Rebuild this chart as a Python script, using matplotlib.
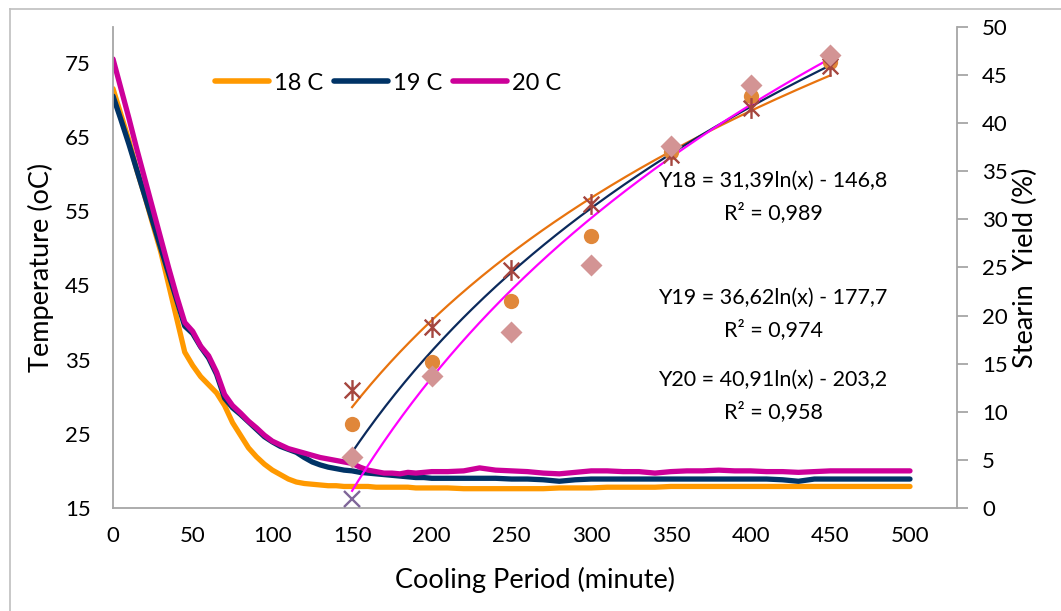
import numpy as np
import matplotlib
matplotlib.use("Agg")
import matplotlib.pyplot as plt
from matplotlib.path import Path
from matplotlib.lines import Line2D

plt.rcParams['font.family'] = ['Lato', 'DejaVu Sans']

# cooling curves
time = list(range(0, 200, 5)) + list(range(200, 501, 10))

temp_18 = [71.5, 68.0, 64.5, 60.5, 57.0, 53.2, 49.5, 45.0, 40.5, 36.0,
           34.2, 32.7, 31.6, 30.5, 28.8, 26.5, 24.8, 23.1, 21.9, 20.9,
           20.1, 19.5, 18.9, 18.5, 18.3, 18.2, 18.1, 18.0, 18.0, 17.9,
           17.9, 17.9, 17.9, 17.8, 17.8, 17.8, 17.8, 17.8, 17.7, 17.7,
           17.7, 17.7, 17.6, 17.6, 17.6, 17.6, 17.6, 17.6, 17.7, 17.7,
           17.7, 17.8, 17.8, 17.8, 17.8, 17.9, 17.9, 17.9, 17.9, 17.9,
           17.9, 17.9, 17.9, 17.9, 17.9, 17.9, 17.9, 17.9, 17.9, 17.9, 17.9]

temp_19 = [70.5, 67.3, 64.0, 60.5, 57.0, 53.5, 50.0, 46.5, 43.0, 39.5,
           38.5, 36.7, 35.2, 33.0, 29.8, 28.5, 27.6, 26.6, 25.6, 24.6,
           23.9, 23.3, 22.9, 22.5, 21.8, 21.2, 20.8, 20.5, 20.3, 20.1,
           20.0, 19.8, 19.7, 19.6, 19.5, 19.4, 19.3, 19.2, 19.1, 19.1,
           19.0, 19.0, 19.0, 19.0, 19.0, 18.9, 18.9, 18.8, 18.6, 18.8,
           18.9, 18.9, 18.9, 18.9, 18.9, 18.9, 18.9, 18.9, 18.9, 18.9,
           18.9, 18.9, 18.8, 18.6, 18.9, 18.9, 18.9, 18.9, 18.9, 18.9, 18.9]

temp_20 = [75.5, 71.5, 67.5, 63.3, 59.3, 55.3, 51.3, 47.3, 43.5, 40.0,
           38.8, 36.8, 35.5, 33.3, 30.3, 28.8, 27.8, 26.7, 25.8, 24.8,
           24.0, 23.5, 23.0, 22.7, 22.4, 22.1, 21.8, 21.6, 21.4, 21.2,
           21.0, 20.5, 20.1, 19.9, 19.7, 19.7, 19.6, 19.8, 19.7, 19.8,
           19.9, 19.9, 20.0, 20.4, 20.1, 20.0, 19.9, 19.7, 19.6, 19.8,
           20.0, 20.0, 19.9, 19.9, 19.7, 19.9, 20.0, 20.0, 20.1, 20.0,
           20.0, 19.9, 19.9, 19.8, 19.9, 20.0, 20.0, 20.0, 20.0, 20.0, 20.0]

# stearin yield points
yield_time = [150, 200, 250, 300, 350, 400, 450]
yield_star = [12.3, 18.8, 24.7, 31.6, 36.7, 41.6, 45.9]
yield_circle = [8.7, 15.2, 21.5, 28.3, 37.0, 42.8, 46.4]
yield_diamond = [5.3, 13.7, 18.3, 25.3, 37.6, 44.0, 47.1]
x_time = [150]
yield_x = [0.9]

# log trendlines y = a ln(x) + b
trend_a = [31.39, 36.62, 40.91]
trend_b = [-146.8, -177.7, -203.2]
trend_labels = ["Y18 = 31,39ln(x) - 146,8", "Y19 = 36,62ln(x) - 177,7",
                "Y20 = 40,91ln(x) - 203,2"]
r2_labels = ["R² = 0,989", "R² = 0,974", "R² = 0,958"]

fig = plt.figure(figsize=(10.61, 6.11), dpi=100)
ax = fig.add_axes([0.1065, 0.1686, 0.7955, 0.7872])
ax2 = ax.twinx()

gray = '#A6A6A6'
ax.plot(time, temp_18, color='#FF9900', lw=3.8, solid_capstyle='round', label='18 C')
ax.plot(time, temp_19, color='#003366', lw=3.8, solid_capstyle='round', label='19 C')
ax.plot(time, temp_20, color='#CC0099', lw=3.8, solid_capstyle='round', label='20 C')

ax.set_xlim(0, 529.5)
ax.set_ylim(15, 79.8)
ax.set_xticks(range(0, 501, 50))
ax.set_yticks(range(15, 76, 10))
ax.tick_params(axis='both', length=0, labelsize=16, pad=13)
ax.tick_params(axis='y', pad=16)

for s in ['top', 'right']:
    ax.spines[s].set_visible(False)
for s in ['left', 'bottom']:
    ax.spines[s].set_color(gray)
    ax.spines[s].set_linewidth(1.3)

ax.set_xlabel('Cooling Period (minute)', fontsize=19.5, labelpad=15)
ax.set_ylabel('Temperature (oC)', fontsize=19.5, labelpad=8)

# trendlines
tx = np.linspace(150, 450, 200)
trend_colors = ['#E8730E', '#0B2A5C', '#FF00FF']
for a, b, c in zip(trend_a, trend_b, trend_colors):
    ax2.plot(tx, a * np.log(tx) + b, color=c, lw=1.6)

star = Path([(0, -1), (0, 1), (-0.75, -0.75), (0.75, 0.75), (-0.75, 0.75), (0.75, -0.75)],
            [Path.MOVETO, Path.LINETO, Path.MOVETO, Path.LINETO, Path.MOVETO, Path.LINETO])

ax2.plot(yield_time, yield_circle, 'o', color='#E0873A', ms=11, mec='none')
ax2.plot(yield_time, yield_star, ls='none', marker=star, color='#A5463F', ms=15, mew=1.7)
ax2.plot(yield_time, yield_diamond, 'D', color='#D39494', ms=11.5, mec='none')
ax2.plot(x_time, yield_x, 'x', color='#7F6699', ms=12, mew=1.7)

ax2.set_ylim(0, 50)
ax2.set_yticks(range(0, 51, 5))
ax2.tick_params(axis='y', length=8, width=1.3, color=gray, labelsize=16, pad=10)
for s in ['top', 'left', 'bottom']:
    ax2.spines[s].set_visible(False)
ax2.spines['right'].set_color(gray)
ax2.spines['right'].set_linewidth(1.3)
ax2.set_ylabel('Stearin  Yield (%)', fontsize=19.5, labelpad=4)

eq_y = [181, 298, 380]
for lbl, r2, y in zip(trend_labels, r2_labels, eq_y):
    fig.text(773 / 1061, 1 - y / 611, lbl, ha='center', va='center', fontsize=15.5)
    fig.text(773 / 1061, 1 - (y + 32) / 611, r2, ha='center', va='center', fontsize=15.5)

leg = ax.legend(loc='center', bbox_to_anchor=(388 / 1061, 1 - 83 / 611),
                bbox_transform=fig.transFigure, ncol=3, frameon=False,
                fontsize=17, handlelength=2.3, handletextpad=0.2, columnspacing=0.45)
for h in leg.get_lines():
    h.set_linewidth(4)
    h.set_solid_capstyle('round')

# outer chart border (left and top edges visible)
fig.add_artist(Line2D([10 / 1061, 10 / 1061], [0, 1 - 9 / 611], color='#BFBFBF', lw=1.2))
fig.add_artist(Line2D([10 / 1061, 1], [1 - 9 / 611, 1 - 9 / 611], color='#BFBFBF', lw=1.2))

fig.savefig('out.png', dpi=100)
